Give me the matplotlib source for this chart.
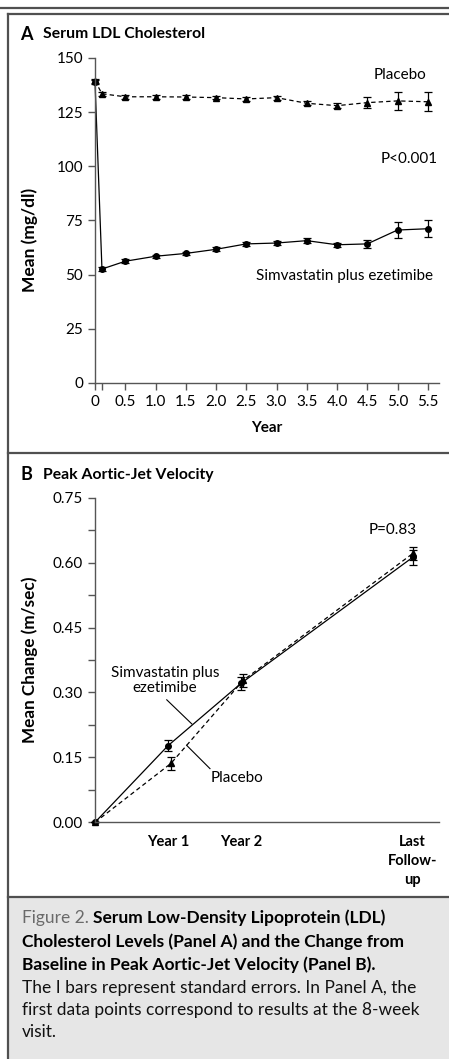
import numpy as np
import matplotlib
matplotlib.use('Agg')
import matplotlib.pyplot as plt
from matplotlib.lines import Line2D
from matplotlib.patches import Rectangle

plt.rcParams['font.family'] = ['Lato', 'DejaVu Sans']

# Panel A data: serum LDL cholesterol (mg/dl)
years_a = [0, 0.115, 0.5, 1.0, 1.5, 2.0, 2.5, 3.0, 3.5, 4.0, 4.5, 5.0, 5.5]
placebo_a = [139.5, 133.5, 132.1, 132.1, 132.0, 131.7, 131.1, 131.7, 129.1, 128.0, 129.4, 130.2, 129.8]
placebo_a_se = [1.0, 1.0, 0.8, 0.8, 0.8, 0.8, 0.9, 0.9, 0.9, 1.0, 2.4, 4.0, 4.4]
simva_a = [139.0, 52.6, 56.2, 58.5, 59.8, 61.7, 64.2, 64.6, 65.7, 63.8, 64.2, 70.6, 71.2]
simva_a_se = [1.0, 0.8, 0.8, 0.8, 0.8, 0.9, 0.9, 0.9, 1.0, 1.0, 1.8, 3.5, 4.0]
xticks_a = [0, 0.5, 1.0, 1.5, 2.0, 2.5, 3.0, 3.5, 4.0, 4.5, 5.0, 5.5]
xticklabels_a = ['0', '0.5', '1.0', '1.5', '2.0', '2.5', '3.0', '3.5', '4.0', '4.5', '5.0', '5.5']

# Panel B data: change in peak aortic-jet velocity (m/sec)
years_b_simva = [0, 1.0, 2.0, 4.35]
simva_b = [0, 0.177, 0.321, 0.612]
simva_b_se = [0, 0.013, 0.015, 0.017]
years_b_placebo = [0, 1.04, 2.03, 4.36]
placebo_b = [0, 0.136, 0.328, 0.622]
placebo_b_se = [0, 0.015, 0.015, 0.015]
xticks_b = [1, 2, 4.35]
xticklabels_b = ['Year 1', 'Year 2', 'Last\nFollow-\nup']

W, H = 449, 1059
fig = plt.figure(figsize=(W / 100, H / 100), dpi=100)


def px_axes(left, top, right, bottom):
    return fig.add_axes([left / W, 1 - bottom / H, (right - left) / W, (bottom - top) / H])


def fx(x):
    return x / W


def fy(y):
    return 1 - y / H


axis_col = '#555555'
frame_col = '#505050'
fs = 11

# caption background and frame lines
fig.add_artist(Rectangle((fx(8), 0), 1 - fx(8), fy(897), transform=fig.transFigure,
                         facecolor='#e6e6e6', edgecolor='none', zorder=0))
fig.add_artist(Line2D([0, 1], [fy(7.5), fy(7.5)], transform=fig.transFigure, color=frame_col, lw=1.6))
fig.add_artist(Line2D([fx(8), 1], [fy(14), fy(14)], transform=fig.transFigure, color=frame_col, lw=1.6))
fig.add_artist(Line2D([fx(8), fx(8)], [0, fy(14)], transform=fig.transFigure, color=frame_col, lw=1.6))
fig.add_artist(Line2D([fx(8), 1], [fy(453), fy(453)], transform=fig.transFigure, color=frame_col, lw=1.6))
fig.add_artist(Line2D([fx(8), 1], [fy(897), fy(897)], transform=fig.transFigure, color=frame_col, lw=1.6))


def style_axes(ax):
    for s in ['top', 'right']:
        ax.spines[s].set_visible(False)
    for s in ['left', 'bottom']:
        ax.spines[s].set_color(axis_col)
        ax.spines[s].set_linewidth(1.0)
    ax.tick_params(colors=axis_col, labelcolor='black', labelsize=fs, length=5, width=1.0)
    ax.patch.set_alpha(0)


# ---- Panel A ----
fig.text(fx(20), fy(34), 'A', fontsize=13, fontweight='bold', va='center')
fig.text(fx(43), fy(34), 'Serum LDL Cholesterol', fontsize=11.3, fontweight='bold', va='center')

ax1 = px_axes(95, 58, 439, 383)
style_axes(ax1)
ax1.errorbar(years_a, placebo_a, yerr=placebo_a_se, color='black', marker='^', ms=4.5,
             ls=(0, (3.5, 2.5)), lw=0.9, elinewidth=0.9, capsize=2.6, capthick=0.9, clip_on=False)
ax1.errorbar(years_a, simva_a, yerr=simva_a_se, color='black', marker='o', ms=4,
             ls='-', lw=0.9, elinewidth=0.9, capsize=2.6, capthick=0.9, clip_on=False)
ax1.set_xlim(0, 344 / 60.5)
ax1.set_ylim(0, 150)
ax1.set_yticks([0, 25, 50, 75, 100, 125, 150])
ax1.set_xticks(xticks_a)
ax1.set_xticklabels(xticklabels_a)
ax1.set_xticks([0.115], minor=True)
ax1.tick_params(which='minor', colors=axis_col, length=5, width=1.0)
ax1.set_xlabel('Year', fontsize=fs, fontweight='bold', labelpad=9)
ax1.set_ylabel('Mean (mg/dl)', fontsize=12.5, fontweight='bold')
ax1.yaxis.set_label_coords(-0.165, 0.44)
ax1.text(5.04, 142.2, 'Placebo', fontsize=fs, ha='center', va='center')
ax1.text(5.2, 103.4, 'P<0.001', fontsize=fs, ha='center', va='center')
ax1.text(4.13, 49.5, 'Simvastatin plus ezetimibe', fontsize=fs, ha='center', va='center')

# ---- Panel B ----
fig.text(fx(21), fy(475), 'B', fontsize=13, fontweight='bold', va='center')
fig.text(fx(43), fy(475), 'Peak Aortic-Jet Velocity', fontsize=11.3, fontweight='bold', va='center')

ax2 = px_axes(95, 497.7, 439, 822.3)
style_axes(ax2)
ax2.errorbar(years_b_placebo, placebo_b, yerr=placebo_b_se, color='black', marker='^', ms=4.5,
             ls=(0, (3.5, 2.5)), lw=0.9, elinewidth=0.9, capsize=2.6, capthick=0.9, clip_on=False)
ax2.errorbar(years_b_simva, simva_b, yerr=simva_b_se, color='black', marker='o', ms=4,
             ls='-', lw=0.9, elinewidth=0.9, capsize=2.6, capthick=0.9, clip_on=False)
ax2.set_xlim(0, 344 / 73)
ax2.set_ylim(0, 0.75)
ax2.set_yticks(np.arange(0, 0.76, 0.15))
ax2.set_yticklabels(['0.00', '0.15', '0.30', '0.45', '0.60', '0.75'])
ax2.set_yticks(np.arange(0.075, 0.75, 0.15), minor=True)
ax2.tick_params(axis='y', which='minor', colors=axis_col, length=5, width=1.0)
ax2.set_xticks(xticks_b)
ax2.set_xticklabels(xticklabels_b, fontweight='bold', fontsize=10.5, va='top', linespacing=1.45)
ax2.tick_params(axis='x', length=0, pad=9)
ax2.set_ylabel('Mean Change (m/sec)', fontsize=12.3, fontweight='bold')
ax2.yaxis.set_label_coords(-0.165, 0.5)
ax2.text(4.08, 0.6745, 'P=0.83', fontsize=fs, ha='center', va='center')
ax2.text(0.96, 0.328, 'Simvastatin plus\nezetimibe', fontsize=fs, ha='center', va='center',
         linespacing=1.15)
ax2.plot([0.983, 1.325], [0.283, 0.2275], color='black', lw=0.8)
ax2.text(1.94, 0.1022, 'Placebo', fontsize=fs, ha='center', va='center')
ax2.plot([1.255, 1.575], [0.1779, 0.124], color='black', lw=0.8)

# ---- Caption ----
cap_fs = 12.5
cap_x = fx(22)
t1 = fig.text(cap_x, fy(918), 'Figure 2. ', fontsize=cap_fs, color='#6a6a6a', va='center')
fig.canvas.draw()
bb = t1.get_window_extent()
fig.text(bb.x1 / W, fy(918), 'Serum Low-Density Lipoprotein (LDL)', fontsize=cap_fs,
         fontweight='bold', va='center')
fig.text(cap_x, fy(941.7), 'Cholesterol Levels (Panel A) and the Change from', fontsize=cap_fs,
         fontweight='bold', va='center')
fig.text(cap_x, fy(965), 'Baseline in Peak Aortic-Jet Velocity (Panel B).', fontsize=cap_fs,
         fontweight='bold', va='center')
fig.text(cap_x, fy(988), 'The I bars represent standard errors. In Panel A, the', fontsize=cap_fs,
         color='#111111', va='center')
fig.text(cap_x, fy(1010), 'first data points correspond to results at the 8-week', fontsize=cap_fs,
         color='#111111', va='center')
fig.text(cap_x, fy(1032), 'visit.', fontsize=cap_fs, color='#111111', va='center')

fig.savefig('out.png', dpi=100)
